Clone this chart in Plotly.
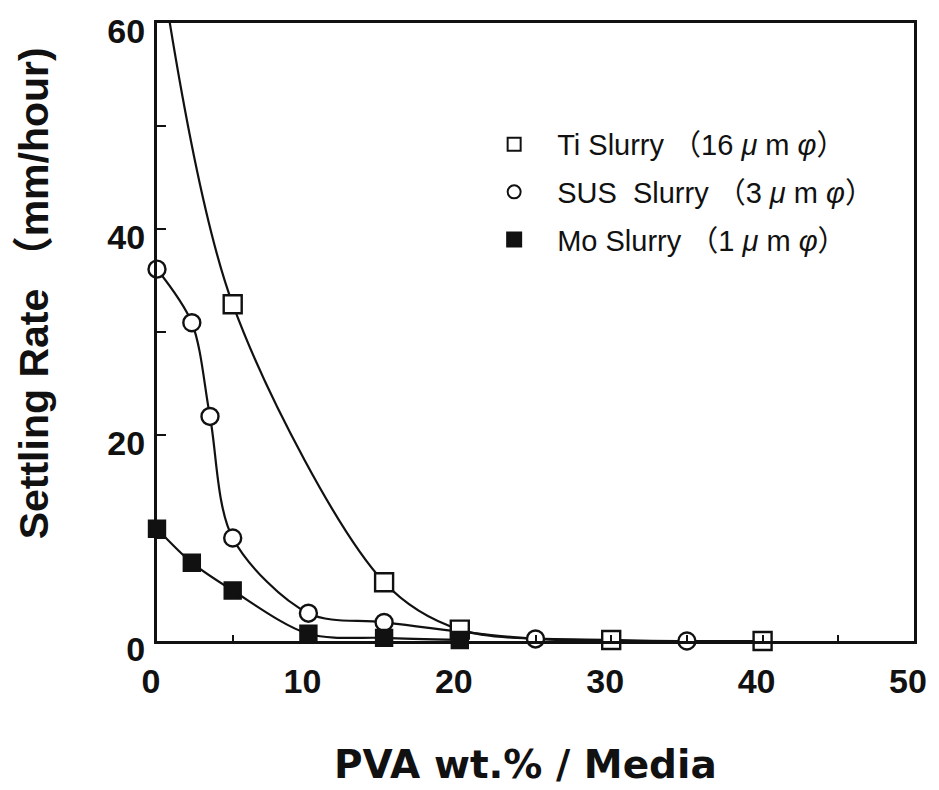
import plotly.graph_objects as go

# PVA content (wt.% / media) and settling rates (mm/hour) for each slurry
ti_x = [0, 5, 15, 20, 30, 40]
ti_y = [68, 32.7, 5.7, 1.1, 0.1, 0.0]

sus_x = [0, 2.3, 3.5, 5, 10, 15, 25, 35]
sus_y = [36.1, 30.9, 21.8, 10.0, 2.7, 1.8, 0.2, 0.0]

mo_x = [0, 2.3, 5, 10, 15, 20]
mo_y = [10.9, 7.6, 4.9, 0.7, 0.3, 0.1]

x_ticks = [0, 10, 20, 30, 40, 50]
y_ticks = [0, 20, 40, 60]

legend_names = [
    "Ti Slurry （16 <i>μ</i> m <i>φ</i>）",
    "SUS\u00a0\u00a0Slurry （3 <i>μ</i> m <i>φ</i>）",
    "Mo Slurry （1 <i>μ</i> m <i>φ</i>）",
]

FONT = "Liberation Sans, Arial, Noto Sans CJK JP, sans-serif"
WIDE = "DejaVu Sans, Liberation Sans, sans-serif"
INK = "#111111"

fig = go.Figure()

series = [
    (ti_x, ti_y, "square", "white", 18),
    (sus_x, sus_y, "circle", "white", 17),
    (mo_x, mo_y, "square", INK, 16),
]

# smooth fitted curves (always clipped to the plot area)
for xs, ys, sym, fill, size in series:
    fig.add_trace(go.Scatter(
        x=xs, y=ys, mode="lines", line=dict(color=INK, width=2.2, shape="spline", smoothing=0.9),
        showlegend=False, hoverinfo="skip",
    ))

# measured points, the off-scale Ti value at 0 wt.% is only used for the curve
for i, (xs, ys, sym, fill, size) in enumerate(series):
    px, py = (xs[1:], ys[1:]) if i == 0 else (xs, ys)
    fig.add_trace(go.Scatter(
        x=px, y=py, mode="markers", cliponaxis=False, showlegend=False,
        marker=dict(symbol=sym, size=size, color=fill, line=dict(color=INK, width=2.4)),
    ))

# legend entries
for i, (xs, ys, sym, fill, size) in enumerate(series):
    fig.add_trace(go.Scatter(
        x=[None], y=[None], mode="markers", name=legend_names[i], legendgroup=f"g{i}",
        marker=dict(symbol=sym, size=13 if i < 2 else 14, color=fill, line=dict(color=INK, width=2)),
    ))

fig.update_layout(
    width=939, height=790,
    margin=dict(l=157, r=21, t=20, b=149),
    paper_bgcolor="white", plot_bgcolor="white",
    font=dict(family=FONT, color=INK),
    showlegend=True,
    legend=dict(
        x=0.415, y=0.845, xanchor="left", yanchor="top",
        font=dict(size=29, family=FONT, color=INK),
        bgcolor="rgba(0,0,0,0)", tracegroupgap=7, itemwidth=76,
    ),
    xaxis=dict(
        range=[0, 50], showgrid=False, zeroline=False,
        showline=True, linecolor=INK, linewidth=3, mirror=True,
        tickmode="array", tickvals=[0, 5, 10, 15, 20, 25, 30, 35, 40, 45, 50],
        ticktext=[str(v) if v in x_ticks else "" for v in [0, 5, 10, 15, 20, 25, 30, 35, 40, 45, 50]],
        ticks="inside", ticklen=6, tickwidth=2, tickcolor=INK,
        tickfont=dict(size=34, family=FONT, color=INK, weight="bold"),
        ticklabelstandoff=8, ticklabelshift=-6,
    ),
    yaxis=dict(
        range=[0, 60], showgrid=False, zeroline=False,
        showline=True, linecolor=INK, linewidth=3, mirror=True,
        tickmode="array", tickvals=[0, 10, 20, 30, 40, 50, 60],
        ticktext=[str(v) if v in y_ticks else "" for v in [0, 10, 20, 30, 40, 50, 60]],
        ticks="inside", ticklen=9, tickwidth=2, tickcolor=INK,
        tickfont=dict(size=34, family=FONT, color=INK, weight="bold"),
        ticklabelstandoff=2, ticklabelshift=8,
    ),
    annotations=[
        dict(text="<b>Settling Rate （mm/hour)</b>", textangle=-90,
             xref="paper", yref="paper", x=(33 - 157) / 761, y=(641 - 292) / 621,
             xanchor="center", yanchor="middle", showarrow=False,
             font=dict(size=41, family=FONT, color=INK)),
        dict(text="<b>PVA wt.% / Media</b>",
             xref="paper", yref="paper", x=(527 - 157) / 761, y=(641 - 765) / 621,
             xanchor="center", yanchor="middle", showarrow=False,
             font=dict(size=39, family=WIDE, color=INK)),
    ],
)

fig.write_html("out.html")
